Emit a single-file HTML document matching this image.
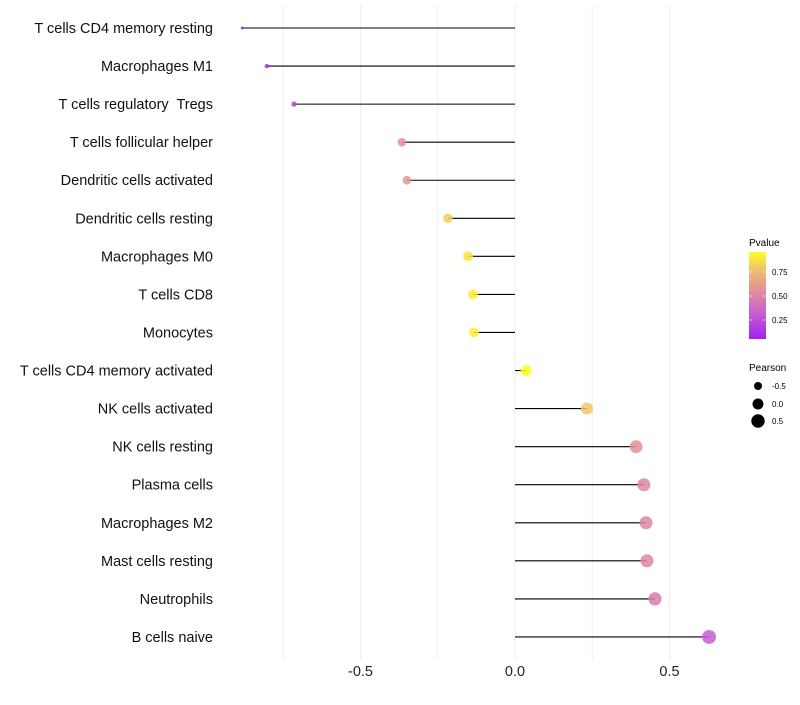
<!DOCTYPE html>
<html><head><meta charset="utf-8"><style>
body{margin:0;background:#fff;font-family:"Liberation Sans",sans-serif}
text{white-space:pre}
</style></head><body>
<svg id="chart" width="800" height="700" xmlns="http://www.w3.org/2000/svg" font-family="Liberation Sans, sans-serif" xml:space="preserve">
<defs><linearGradient id="pg" x1="0" y1="1" x2="0" y2="0">
<stop offset="0" stop-color="#a020f0"/><stop offset="0.3" stop-color="#c860d0"/><stop offset="0.55" stop-color="#e0909a"/><stop offset="0.8" stop-color="#f0c070"/><stop offset="1" stop-color="#ffff20"/></linearGradient></defs>
<g id="grid"></g><g id="marks"></g><g id="labels"></g>
<g>
<text x="749" y="246" font-size="10">Pvalue</text>
<rect x="749" y="252" width="17" height="87" fill="url(#pg)"/>
<line x1="749" x2="752" y1="272" y2="272" stroke="#fff" opacity="0.6"/><line x1="763" x2="766" y1="272" y2="272" stroke="#fff" opacity="0.6"/>
<line x1="749" x2="752" y1="296" y2="296" stroke="#fff" opacity="0.6"/><line x1="763" x2="766" y1="296" y2="296" stroke="#fff" opacity="0.6"/>
<line x1="749" x2="752" y1="320" y2="320" stroke="#fff" opacity="0.6"/><line x1="763" x2="766" y1="320" y2="320" stroke="#fff" opacity="0.6"/>
<text x="772" y="275" font-size="8">0.75</text><text x="772" y="299" font-size="8">0.50</text><text x="772" y="323" font-size="8">0.25</text>
</g>
<g>
<text x="749" y="371" font-size="10">Pearson</text>
<circle cx="758" cy="386" r="4" fill="#000"/><text x="772" y="389" font-size="8">-0.5</text>
<circle cx="758" cy="404" r="5.5" fill="#000"/><text x="772" y="407" font-size="8">0.0</text>
<circle cx="758" cy="421" r="6.7" fill="#000"/><text x="772" y="424" font-size="8">0.5</text>
</g>
</svg>
<script>
const categories=["T cells CD4 memory resting","Macrophages M1","T cells regulatory  Tregs","T cells follicular helper","Dendritic cells activated","Dendritic cells resting","Macrophages M0","T cells CD8","Monocytes","T cells CD4 memory activated","NK cells activated","NK cells resting","Plasma cells","Macrophages M2","Mast cells resting","Neutrophils","B cells naive"];
const pearson=[-0.883,-0.803,-0.715,-0.366,-0.350,-0.217,-0.152,-0.136,-0.133,0.036,0.233,0.392,0.417,0.424,0.427,0.453,0.628];
const pvalue=[0.05,0.1,0.2,0.55,0.57,0.8,0.88,0.9,0.9,0.98,0.78,0.55,0.5,0.5,0.5,0.45,0.3];
const xTicks=[-0.5,0,0.5];
const xTickLabels=["-0.5","0.0","0.5"];
const NS="http://www.w3.org/2000/svg";
const x=v=>515+v*309;
const y=i=>28+i*38.06;
const stops=[[0,[160,32,240]],[0.3,[200,96,208]],[0.55,[224,144,154]],[0.8,[240,192,112]],[1,[255,255,32]]];
function col(p){const t=Math.max(0,Math.min(1,(p-0.04)/0.91));for(let k=1;k<stops.length;k++){if(t<=stops[k][0]){const a=stops[k-1],b=stops[k],f=(t-a[0])/(b[0]-a[0]);return 'rgb('+a[1].map((c,j)=>Math.round(c+(b[1][j]-c)*f)).join(',')+')';}}return 'rgb(255,255,32)';}
function rad(v){const a=2.25+(v+0.883)/1.511*46.75;return Math.sqrt(Math.max(a,1));}
function mk(t,a,p){const e=document.createElementNS(NS,t);for(const k in a)e.setAttribute(k,a[k]);p.appendChild(e);return e;}
const grid=document.getElementById('grid'),marks=document.getElementById('marks'),labels=document.getElementById('labels');
[-0.75,-0.5,-0.25,0,0.25,0.5].forEach(v=>{const l=mk('line',{x1:x(v),x2:x(v),y1:5,y2:660,stroke:'#efefef','stroke-width':1},grid);

});
xTicks.forEach((v,i)=>{const t=mk('text',{x:x(v),y:676,'font-size':14.5,'text-anchor':'middle',fill:'#222'},labels);t.textContent=xTickLabels[i];

});
categories.forEach((c,i)=>{
const t=mk('text',{x:213,y:y(i)+5,'font-size':14.5,'text-anchor':'end',fill:'#111'},labels);t.textContent=c;


const l=mk('line',{x1:x(0),x2:x(pearson[i]),y1:y(i),y2:y(i),stroke:'#000','stroke-width':1.1},marks);


const d=mk('circle',{cx:x(pearson[i]),cy:y(i),r:rad(pearson[i]),fill:col(pvalue[i]),opacity:0.85},marks);


});
</script>
</body></html>
